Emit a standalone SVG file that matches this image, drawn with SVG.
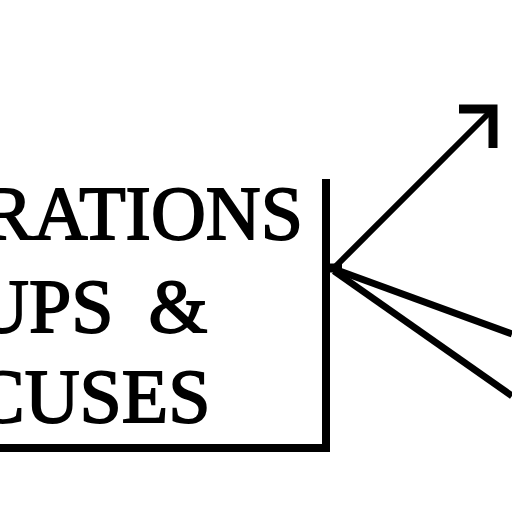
<svg xmlns="http://www.w3.org/2000/svg" width="512" height="512" viewBox="0 0 512 512">
<style>
.lbl{font-family:"Liberation Serif","Times New Roman",serif;font-size:76px;fill:#000;stroke:#000;stroke-width:1.8}
.ln{stroke:#000;fill:none;stroke-linecap:butt}
</style>
<rect width="512" height="512" fill="#fff"/>
<g id="node-box">
<polyline class="ln" points="0,448 326,448 326,179" stroke-width="8"/>
<text class="lbl" x="-18" y="239">RATIONS</text>
<text class="lbl" x="-26" y="332" word-spacing="16">UPS &amp;</text>
<text class="lbl" x="-26" y="422">CUSES</text>
</g>
<g id="connectors">
<line class="ln" x1="326" y1="268" x2="342" y2="268" stroke-width="9"/>
<line class="ln" x1="334" y1="268" x2="491" y2="111" stroke-width="6"/>
<polyline class="ln" points="459,109 493,109 493,148" stroke-width="9"/>
<line class="ln" x1="334" y1="269" x2="512" y2="334" stroke-width="7"/>
<line class="ln" x1="334" y1="271" x2="512" y2="396" stroke-width="7"/>
</g>
</svg>
